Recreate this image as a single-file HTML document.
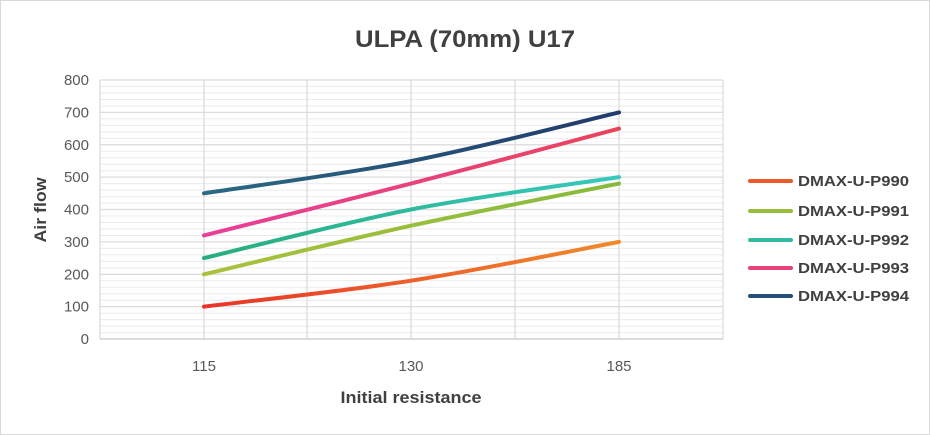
<!DOCTYPE html>
<html><head><meta charset="utf-8"><style>
html,body{margin:0;padding:0;background:#fff}
svg{display:block;font-family:"Liberation Sans",sans-serif}
</style></head><body>
<svg width="930" height="435" viewBox="0 0 930 435" xmlns="http://www.w3.org/2000/svg">
<defs>
<linearGradient id="g0" x1="204" x2="619" y1="0" y2="0" gradientUnits="userSpaceOnUse"><stop offset="0" stop-color="#e8342a"/><stop offset="1" stop-color="#f28a2a"/></linearGradient>
<linearGradient id="g1" x1="204" x2="619" y1="0" y2="0" gradientUnits="userSpaceOnUse"><stop offset="0" stop-color="#aac23c"/><stop offset="1" stop-color="#86ba3c"/></linearGradient>
<linearGradient id="g2" x1="204" x2="619" y1="0" y2="0" gradientUnits="userSpaceOnUse"><stop offset="0" stop-color="#27ad7e"/><stop offset="1" stop-color="#37c8be"/></linearGradient>
<linearGradient id="g3" x1="204" x2="619" y1="0" y2="0" gradientUnits="userSpaceOnUse"><stop offset="0" stop-color="#e8409a"/><stop offset="1" stop-color="#e8445c"/></linearGradient>
<linearGradient id="g4" x1="204" x2="619" y1="0" y2="0" gradientUnits="userSpaceOnUse"><stop offset="0" stop-color="#2a6a82"/><stop offset="1" stop-color="#213a6c"/></linearGradient>
</defs>
<rect x="0.5" y="0.5" width="929" height="434" fill="#fff" stroke="#d9d9d9"/>
<g stroke="#ebebeb" stroke-width="1">
<path d="M100,86.5H723M100,93H723M100,99.5H723M100,106H723M100,118.9H723M100,125.4H723M100,131.9H723M100,138.4H723M100,151.3H723M100,157.8H723M100,164.3H723M100,170.8H723M100,183.6H723M100,190.1H723M100,196.6H723M100,203.1H723M100,216H723M100,222.5H723M100,229H723M100,235.5H723M100,248.4H723M100,254.9H723M100,261.4H723M100,267.9H723M100,280.7H723M100,287.2H723M100,293.7H723M100,300.2H723M100,313.1H723M100,319.6H723M100,326.1H723M100,332.6H723"/>
</g>
<g stroke="#dcdcdc" stroke-width="1.3">
<path d="M100,80H723M100,112.4H723M100,144.8H723M100,177.1H723M100,209.5H723M100,241.9H723M100,274.3H723M100,306.6H723"/>
<path d="M100,80V339M204,80V339M307,80V339M411,80V339M515,80V339M619,80V339M723,80V339"/>
</g>
<path d="M100,339H723" stroke="#c8c8c8" stroke-width="1.3"/>
<g fill="none" stroke-width="4" stroke-linecap="round">
<path stroke="url(#g0)" d="M204,306.6 C238.5,302.3 341.8,291.5 411,280.7 C480.2,269.9 584.3,248.4 619,241.9"/>
<path stroke="url(#g1)" d="M204,274.3 C238.5,266.2 341.8,240.8 411,225.7 C480.2,210.6 584.3,190.6 619,183.6"/>
<path stroke="url(#g2)" d="M204,258.1 C238.5,250 341.8,223 411,209.5 C480.2,196 584.3,182.5 619,177.1"/>
<path stroke="url(#g3)" d="M204,235.4 C238.5,226.8 341.8,201.4 411,183.6 C480.2,165.8 584.3,137.8 619,128.6"/>
<path stroke="url(#g4)" d="M204,193.3 C238.5,187.9 341.8,174.6 411,161.1 C480.2,147.6 584.3,120.5 619,112.4"/>
</g>
<g font-size="15" fill="#595959" text-anchor="end">
<text x="89" y="85">800</text><text x="89" y="117.4">700</text><text x="89" y="149.8">600</text><text x="89" y="182.1">500</text><text x="89" y="214.5">400</text><text x="89" y="246.9">300</text><text x="89" y="279.3">200</text><text x="89" y="311.6">100</text><text x="89" y="344">0</text>
</g>
<g font-size="15" fill="#595959" text-anchor="middle">
<text x="204" y="371">115</text><text x="411" y="371">130</text><text x="619" y="371">185</text>
</g>
<text x="465" y="47" font-size="24" font-weight="bold" fill="#404040" text-anchor="middle" textLength="220" lengthAdjust="spacingAndGlyphs">ULPA (70mm) U17</text>
<text x="411" y="403" font-size="17" font-weight="bold" fill="#404040" text-anchor="middle" textLength="141" lengthAdjust="spacingAndGlyphs">Initial resistance</text>
<text transform="translate(46,210) rotate(-90)" font-size="17" font-weight="bold" fill="#404040" text-anchor="middle" textLength="65" lengthAdjust="spacingAndGlyphs">Air flow</text>
<g stroke-width="4" stroke-linecap="round">
<path d="M750,181H791" stroke="#ec5a2a"/>
<path d="M750,211H791" stroke="#98be3c"/>
<path d="M750,240H791" stroke="#30bca0"/>
<path d="M750,268H791" stroke="#e8427a"/>
<path d="M750,296H791" stroke="#26507a"/>
</g>
<g font-size="14.5" font-weight="bold" fill="#404040">
<text x="798" y="186" textLength="111" lengthAdjust="spacingAndGlyphs">DMAX-U-P990</text>
<text x="798" y="216" textLength="111" lengthAdjust="spacingAndGlyphs">DMAX-U-P991</text>
<text x="798" y="245" textLength="111" lengthAdjust="spacingAndGlyphs">DMAX-U-P992</text>
<text x="798" y="273" textLength="111" lengthAdjust="spacingAndGlyphs">DMAX-U-P993</text>
<text x="798" y="301" textLength="111" lengthAdjust="spacingAndGlyphs">DMAX-U-P994</text>
</g>
</svg>
</body></html>
